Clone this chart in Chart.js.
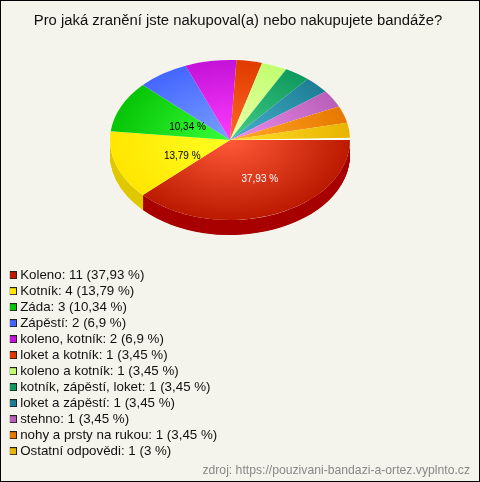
<!DOCTYPE html>
<html><head><meta charset="utf-8">
<style>html,body{margin:0;padding:0;background:#f4f4ec}canvas{display:block}</style>
<script src="https://cdn.jsdelivr.net/npm/chart.js@4/dist/chart.umd.min.js"></script>
</head><body><canvas id="c" width="480" height="482"></canvas>
<script>
const titleText = "Pro jaká zranění jste nakupoval(a) nebo nakupujete bandáže?";
const sourceText = "zdroj: https://pouzivani-bandazi-a-ortez.vyplnto.cz";
const categories = ["Koleno","Kotník","Záda","Zápěstí","koleno, kotník","loket a kotník","koleno a kotník","kotník, zápěstí, loket","loket a zápěstí","stehno","nohy a prsty na rukou","Ostatní odpovědi"];
const counts = [11,4,3,2,2,1,1,1,1,1,1,1];
const percents = [37.93,13.79,10.34,6.9,6.9,3.45,3.45,3.45,3.45,3.45,3.45,3];
const rimColors = ["#bb1a00","#ffe600","#06c406","#4466ff","#c412d8","#e03a00","#c0ff70","#0f9a5e","#1e7e96","#b85fb8","#e87800","#e8b400"];
const coreColors = ["#ff5a38","#ffff22","#38ff38","#7ba0ff","#ff3cff","#ff6a24","#eeffaa","#44cc88","#48b0cc","#ee8cee","#ffaa28","#ffe028"];
const sideColors = ["#a80000","#e0c800","#00a000","#3344cc","#9900aa","#b02800","#99cc55","#0a7a48","#156078","#904890","#b86000","#b89000"];
const pctText = p => String(p).replace(".", ",") + " %";
const PIE = {cx:230, cy:140, rx:120, ry:80, depth:15};
const labelSpots = {0:[0.67,0.51],1:[0.42,0.60],2:[0.39,0.42]};
const labelColors = {0:"#fff",1:"#000",2:"#000"};
const FONT = "'Liberation Sans', Arial, sans-serif";

function pieXform(ctx, el){
  ctx.translate(PIE.cx, PIE.cy);
  ctx.scale(PIE.rx/el.outerRadius, PIE.ry/el.outerRadius);
  ctx.translate(-el.x, -el.y);
}
function swatch(color){
  const s = document.createElement("canvas"); s.width = 8; s.height = 8;
  const g = s.getContext("2d");
  g.fillStyle = "#222"; g.fillRect(0,0,8,8);
  g.fillStyle = color; g.fillRect(1,1,6,6);
  return s;
}
const piePlugin = {
  id:"pie3d",
  afterLayout(chart){
    const l = chart.legend;
    const w = l.width, h = l.height;
    l.left = 9.83; l.right = 9.83 + w; l.top = 265.83; l.bottom = 265.83 + h;
    chart.boxes.forEach(b=>{
      if (!b.options || b === l) return;
      if (b.options.text === titleText){ b.left -= 2; b.right -= 2; b.top += 2; b.bottom += 2; }
      if (b.options.text === sourceText){ b.right = 470; b.top += 2; b.bottom += 2; }
    });
  },
  beforeDatasetsDraw(chart){
    const ctx = chart.ctx, els = chart.getDatasetMeta(0).data;
    ctx.save();
    pieXform(ctx, els[0]);
    const base = ctx.getTransform();
    for (let i = els.length - 1; i >= 0; i--){
      const el = els[i];
      if (el.startAngle >= Math.PI) continue;
      const saved = el.options.backgroundColor;
      el.options.backgroundColor = sideColors[i];
      for (let d = PIE.depth; d > 0; d -= 0.5){
        ctx.setTransform(base.a, base.b, base.c, base.d, base.e, base.f + d);
        el.draw(ctx);
      }
      el.options.backgroundColor = saved;
    }
    ctx.setTransform(base);
    ctx.fillStyle = "#fff";
    ctx.beginPath();
    ctx.arc(els[0].x, els[0].y, els[0].outerRadius, 0, Math.PI*2);
    ctx.fill();
  },
  afterDatasetsDraw(chart){
    const ctx = chart.ctx, els = chart.getDatasetMeta(0).data;
    ctx.restore();
    ctx.save();
    ctx.font = "10px " + FONT;
    ctx.textAlign = "center"; ctx.textBaseline = "middle";
    Object.keys(labelSpots).forEach(k=>{
      const el = els[k], a = (el.startAngle + el.endAngle)/2, f = labelSpots[k];
      ctx.fillStyle = labelColors[k];
      ctx.fillText(pctText(percents[k]), PIE.cx + PIE.rx*f[0]*Math.cos(a), 1 + PIE.cy + PIE.ry*f[1]*Math.sin(a));
    });
    ctx.restore();
  }
};
const bgPlugin = {
  id:"bg",
  beforeDraw(chart){
    const c = chart.ctx;
    c.save();
    c.fillStyle = "#000"; c.fillRect(0,0,480,482);
    c.fillStyle = "#f4f4ec"; c.fillRect(1,1,478,480);
    c.restore();
  }
};
new Chart(document.getElementById("c"),{
  type:"pie",
  plugins:[bgPlugin,piePlugin],
  data:{labels:categories,datasets:[{
    data:percents,
    borderWidth:0,
    backgroundColor(c){
      const a = c.chart.chartArea; if(!a) return rimColors[c.dataIndex];
      const x=(a.left+a.right)/2, y=(a.top+a.bottom)/2, r=Math.min(a.right-a.left,a.bottom-a.top)/2;
      const g=c.chart.ctx.createRadialGradient(x,y,0,x,y,r);
      g.addColorStop(0,coreColors[c.dataIndex]); g.addColorStop(1,rimColors[c.dataIndex]);
      return g;
    }
  }]},
  options:{
    responsive:false, animation:false, events:[],
    rotation:90,
    circumference:percents.reduce((a,b)=>a+b,0)*3.6,
    plugins:{
      title:{display:true,text:titleText,color:"#111",font:{family:FONT,size:14.85,weight:"normal",lineHeight:1.2},padding:{top:10,bottom:4}},
      subtitle:{display:true,text:sourceText,position:"bottom",align:"end",color:"#888",font:{family:FONT,size:12.2,weight:"normal"},padding:{top:0,bottom:6}},
      tooltip:{enabled:false},
      legend:{display:true,position:"chartArea",align:"start",
        labels:{
          usePointStyle:true,pointStyleWidth:1,boxHeight:9,padding:2.67,color:"#111",
          font:{family:FONT,size:13.33,lineHeight:"13px"},
          generateLabels(){
            return categories.map((n,i)=>({text:`${n}: ${counts[i]} (${pctText(percents[i])})`,pointStyle:swatch(rimColors[i]),hidden:false,index:i,fontColor:"#111"}));
          }
        }
      }
    }
  }
});
</script></body></html>
